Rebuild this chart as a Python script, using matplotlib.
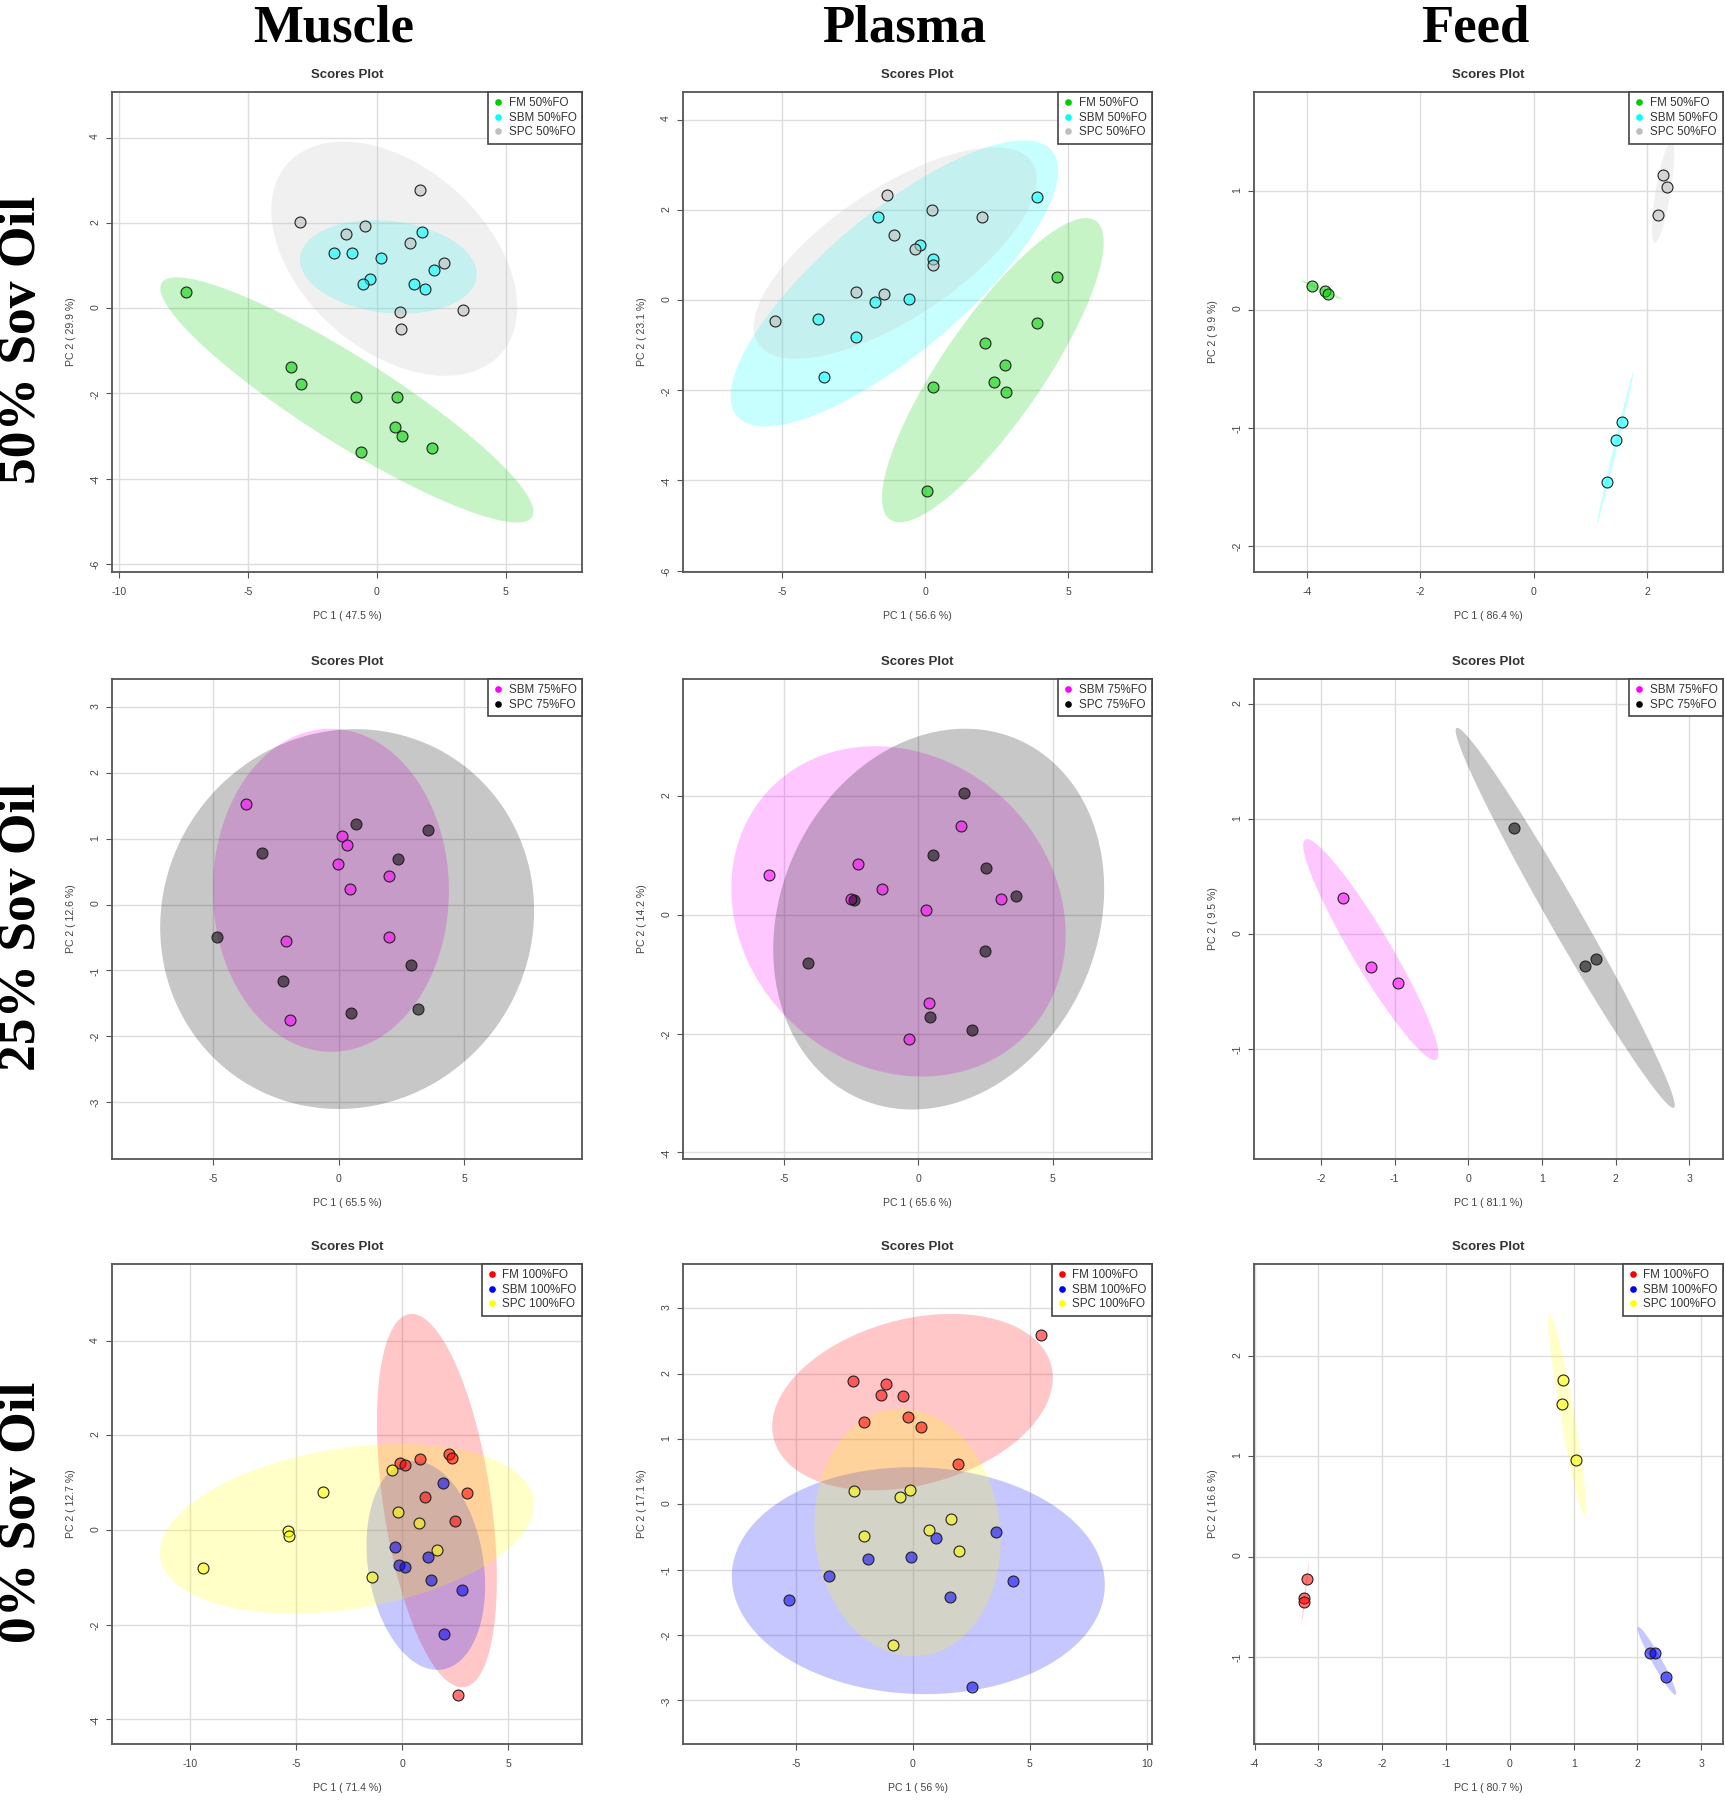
import numpy as np
import matplotlib.pyplot as plt
from matplotlib.colors import to_rgba
from matplotlib.lines import Line2D

plt.rcParams['font.family'] = ['Liberation Sans', 'DejaVu Sans']
plt.rcParams['axes.unicode_minus'] = False

# PCA scores, (PC1, PC2) per sample

# 50% soy oil
muscle_50_fm = [(-7.39, 0.37), (-3.32, -1.37), (-2.93, -1.77), (-0.80, -2.08), (0.80, -2.08),
                (0.71, -2.79), (0.96, -2.99), (2.14, -3.29), (-0.62, -3.38)]
muscle_50_sbm = [(-1.64, 1.29), (-0.97, 1.29), (0.16, 1.17), (1.76, 1.79), (-0.26, 0.68),
                 (-0.52, 0.57), (1.44, 0.57), (1.86, 0.44), (2.20, 0.90)]
muscle_50_spc = [(1.68, 2.77), (-2.98, 2.01), (-0.46, 1.93), (-1.18, 1.73), (1.27, 1.53),
                 (2.60, 1.07), (0.88, -0.09), (0.93, -0.48), (3.33, -0.04)]

plasma_50_fm = [(4.60, 0.50), (3.90, -0.52), (2.07, -0.95), (2.80, -1.45), (2.39, -1.81),
                (2.81, -2.05), (0.28, -1.94), (0.04, -4.23)]
plasma_50_sbm = [(3.92, 2.29), (-1.67, 1.83), (-0.19, 1.22), (0.28, 0.91), (-1.77, -0.04),
                 (-0.57, 0.02), (-3.76, -0.42), (-2.43, -0.81), (-3.55, -1.70)]
plasma_50_spc = [(-1.35, 2.33), (0.23, 2.00), (1.97, 1.85), (-1.11, 1.44), (-0.37, 1.13),
                 (0.28, 0.77), (-2.42, 0.17), (-1.46, 0.14), (-5.25, -0.47)]

feed_50_fm = [(-3.90, 0.20), (-3.68, 0.16), (-3.62, 0.135)]
feed_50_sbm = [(1.56, -0.95), (1.46, -1.10), (1.30, -1.46)]
feed_50_spc = [(2.29, 1.14), (2.36, 1.04), (2.20, 0.80)]

# 25% soy oil
muscle_25_sbm = [(-3.70, 1.53), (0.15, 1.04), (0.35, 0.90), (-0.03, 0.61), (2.02, 0.44),
                 (0.46, 0.24), (-2.08, -0.56), (2.01, -0.50), (-1.94, -1.75)]
muscle_25_spc = [(0.69, 1.23), (3.56, 1.13), (-3.05, 0.78), (2.38, 0.69), (-4.84, -0.49),
                 (2.87, -0.92), (-2.20, -1.17), (0.50, -1.65), (3.16, -1.59)]

plasma_25_sbm = [(-5.59, 0.68), (-2.26, 0.87), (-1.36, 0.44), (-2.50, 0.28), (0.27, 0.09),
                 (1.59, 1.50), (3.09, 0.28), (0.40, -1.48), (-0.34, -2.09)]
plasma_25_spc = [(1.69, 2.06), (0.56, 1.02), (2.53, 0.80), (3.64, 0.32), (-2.42, 0.26),
                 (-4.12, -0.80), (2.47, -0.61), (0.44, -1.72), (2.01, -1.93)]

feed_25_sbm = [(-1.70, 0.31), (-1.32, -0.29), (-0.95, -0.43)]
feed_25_spc = [(0.62, 0.92), (1.59, -0.28), (1.74, -0.22)]

# 0% soy oil
muscle_0_fm = [(-0.08, 1.41), (0.16, 1.38), (0.85, 1.50), (2.21, 1.60), (2.37, 1.52),
               (3.04, 0.78), (1.07, 0.69), (2.52, 0.19), (2.64, -3.48)]
muscle_0_sbm = [(1.91, 1.00), (-0.34, -0.35), (1.20, -0.58), (-0.16, -0.74), (0.14, -0.79),
                (1.36, -1.06), (2.84, -1.27), (2.00, -2.19)]
muscle_0_spc = [(-0.48, 1.27), (-3.75, 0.81), (-0.18, 0.39), (0.82, 0.15), (-5.40, -0.01),
                (-5.32, -0.12), (1.65, -0.43), (-9.38, -0.80), (-1.43, -1.00)]

plasma_0_fm = [(5.46, 2.59), (-2.57, 1.89), (-1.16, 1.85), (-1.38, 1.68), (-0.42, 1.66),
               (-2.10, 1.26), (-0.23, 1.34), (0.33, 1.19), (1.91, 0.62)]
plasma_0_sbm = [(3.57, -0.43), (0.99, -0.52), (-0.07, -0.80), (-1.90, -0.83), (-3.59, -1.09),
                (-5.30, -1.46), (4.26, -1.17), (1.57, -1.42), (2.54, -2.80)]
plasma_0_spc = [(-2.54, 0.20), (-0.13, 0.22), (-0.54, 0.11), (1.62, -0.23), (0.68, -0.39),
                (-2.09, -0.49), (1.99, -0.72), (-0.87, -2.15)]

feed_0_fm = [(-3.18, -0.22), (-3.22, -0.41), (-3.22, -0.45)]
feed_0_sbm = [(2.20, -0.96), (2.27, -0.96), (2.44, -1.20)]
feed_0_spc = [(0.84, 1.76), (0.82, 1.52), (1.04, 0.96)]

labels_50 = ['FM 50%FO', 'SBM 50%FO', 'SPC 50%FO']
labels_75 = ['SBM 75%FO', 'SPC 75%FO']
labels_100 = ['FM 100%FO', 'SBM 100%FO', 'SPC 100%FO']
colors_50 = ['#00cd00', '#00ffff', '#bebebe']
colors_75 = ['#ff00ff', '#000000']
colors_100 = ['#ff0000', '#0000ff', '#ffff00']

# explained variance (PC1, PC2) per panel
var_explained = {
    'muscle_50': (47.5, 29.9), 'plasma_50': (56.6, 23.1), 'feed_50': (86.4, 9.9),
    'muscle_25': (65.5, 12.6), 'plasma_25': (65.6, 14.2), 'feed_25': (81.1, 9.5),
    'muscle_0': (71.4, 12.7), 'plasma_0': (56, 17.1), 'feed_0': (80.7, 16.6),
}

col_titles = ['Muscle', 'Plasma', 'Feed']
row_titles = ['50% Sov Oil', '25% Sov Oil', '0% Sov Oil']


def conf_ellipse(pts, n=240):
    # 95% normal confidence region of the group scores
    mu = pts.mean(axis=0)
    cov = np.cov(pts, rowvar=False)
    vals, vecs = np.linalg.eigh(cov)
    t = np.linspace(0, 2 * np.pi, n)
    circ = np.stack([np.cos(t), np.sin(t)])
    xy = vecs @ (np.sqrt(np.maximum(vals, 0))[:, None] * circ) * np.sqrt(5.991)
    return mu[0] + xy[0], mu[1] + xy[1]


def draw_panel(ax, groups, labels, colors, key, xlim, ylim, xticks, yticks):
    for pts, col in zip(groups, colors):
        ex, ey = conf_ellipse(np.array(pts))
        ax.fill(ex, ey, color=col, alpha=0.22, lw=0, zorder=1)
    for pts, col in zip(groups, colors):
        pts = np.array(pts)
        ax.scatter(pts[:, 0], pts[:, 1], s=62, facecolors=[to_rgba(col, 0.55)],
                   edgecolors='#222222', linewidths=0.8, zorder=3)
    ax.set_xlim(xlim)
    ax.set_ylim(ylim)
    ax.set_xticks(xticks)
    ax.set_yticks(yticks)
    ax.grid(color='#dddddd', lw=1.0)
    ax.set_axisbelow(True)
    for sp in ax.spines.values():
        sp.set_color('#555555')
        sp.set_linewidth(1.3)
    ax.tick_params(length=4, width=0.8, color='#555555', labelsize=7.6,
                   labelcolor='#444444')
    ax.tick_params(axis='x', pad=6.5)
    ax.tick_params(axis='y', labelrotation=90, pad=4.5)
    pc1, pc2 = var_explained[key]
    ax.set_xlabel(f'PC 1 ( {pc1} %)', fontsize=7.6, color='#444444', labelpad=10.5)
    ax.set_ylabel(f'PC 2 ( {pc2} %)', fontsize=7.6, color='#444444', labelpad=10)
    ax.set_title('Scores Plot', fontsize=9.5, fontweight='bold', color='#333333', pad=10)
    handles = [Line2D([], [], marker='o', ls='none', markersize=4.8, color=c,
                      markeredgewidth=0) for c in colors]
    leg = ax.legend(handles, labels, loc='upper right', bbox_to_anchor=(1, 1),
                    borderaxespad=0, fancybox=False, edgecolor='#444444', framealpha=1,
                    fontsize=8.4, handlelength=0.8, handletextpad=0.5, borderpad=0.45,
                    labelspacing=0.22, labelcolor='#333333')
    leg.get_frame().set_linewidth(1.2)


W, H = 1725, 1800
fig = plt.figure(figsize=(W / 100, H / 100), dpi=100)

col_px = [(112, 582), (683, 1152), (1254, 1723)]
row_px = [(92, 572), (679, 1159), (1264, 1744)]

panels = [
    [([muscle_50_fm, muscle_50_sbm, muscle_50_spc], labels_50, colors_50, 'muscle_50',
      (-10.26, 7.95), (-6.19, 5.07), [-10, -5, 0, 5], [-6, -4, -2, 0, 2, 4]),
     ([plasma_50_fm, plasma_50_sbm, plasma_50_spc], labels_50, colors_50, 'plasma_50',
      (-8.48, 7.93), (-6.03, 4.61), [-5, 0, 5], [-6, -4, -2, 0, 2, 4]),
     ([feed_50_fm, feed_50_sbm, feed_50_spc], labels_50, colors_50, 'feed_50',
      (-4.93, 3.34), (-2.22, 1.84), [-4, -2, 0, 2], [-2, -1, 0, 1])],
    [([muscle_25_sbm, muscle_25_spc], labels_75, colors_75, 'muscle_25',
      (-9.01, 9.68), (-3.87, 3.43), [-5, 0, 5], [-3, -2, -1, 0, 1, 2, 3]),
     ([plasma_25_sbm, plasma_25_spc], labels_75, colors_75, 'plasma_25',
      (-8.78, 8.71), (-4.11, 3.98), [-5, 0, 5], [-4, -2, 0, 2]),
     ([feed_25_sbm, feed_25_spc], labels_75, colors_75, 'feed_25',
      (-2.91, 3.46), (-1.96, 2.22), [-2, -1, 0, 1, 2, 3], [-1, 0, 1, 2])],
    [([muscle_0_fm, muscle_0_sbm, muscle_0_spc], labels_100, colors_100, 'muscle_0',
      (-13.69, 8.49), (-4.52, 5.62), [-10, -5, 0, 5], [-4, -2, 0, 2, 4]),
     ([plasma_0_fm, plasma_0_sbm, plasma_0_spc], labels_100, colors_100, 'plasma_0',
      (-9.83, 10.22), (-3.67, 3.68), [-5, 0, 5, 10], [-3, -2, -1, 0, 1, 2, 3]),
     ([feed_0_fm, feed_0_sbm, feed_0_spc], labels_100, colors_100, 'feed_0',
      (-4.01, 3.34), (-1.87, 2.92), [-4, -3, -2, -1, 0, 1, 2, 3], [-1, 0, 1, 2])],
]

for r, (y0, y1) in enumerate(row_px):
    for c, (x0, x1) in enumerate(col_px):
        ax = fig.add_axes([x0 / W, 1 - y1 / H, (x1 - x0) / W, (y1 - y0) / H])
        draw_panel(ax, *panels[r][c])

serif = ['Liberation Serif', 'DejaVu Serif']
for c, (x0, x1) in enumerate(col_px):
    fig.text(((x0 + x1) / 2 - 13) / W, 1 - 41 / H, col_titles[c], family=serif,
             fontsize=38, fontweight='bold', ha='center', va='baseline')
for r, (y0, y1) in enumerate(row_px):
    fig.text(22 / W, 1 - ((y0 + y1) / 2 + 8) / H, row_titles[r], family=serif,
             fontsize=38.5, fontweight='bold', rotation=90, ha='center', va='center')

fig.savefig('out.png', dpi=100)
